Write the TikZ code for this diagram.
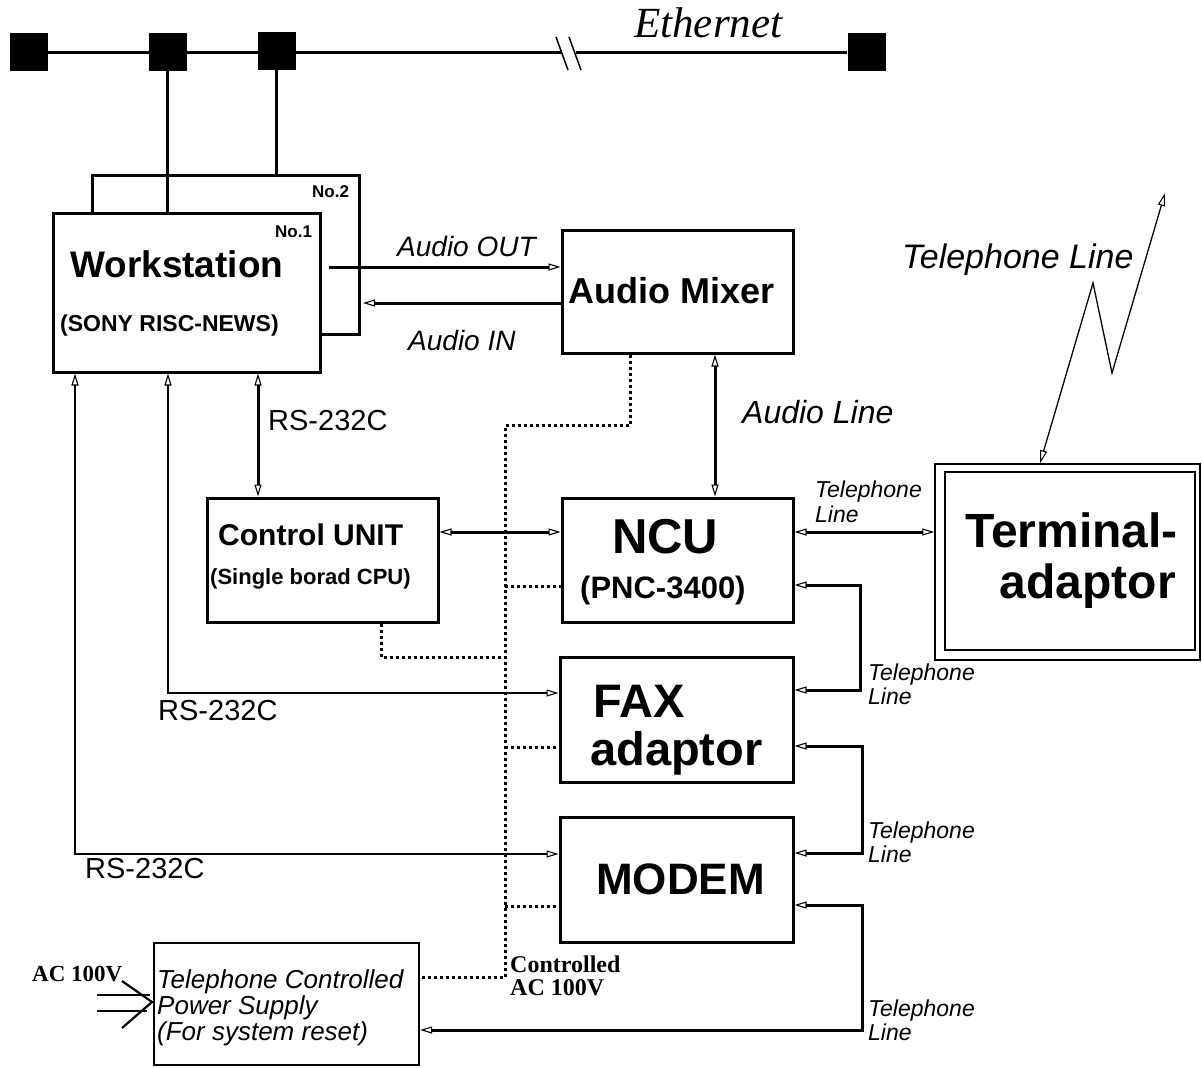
\documentclass[tikz,border=0pt]{standalone}
\usepackage{fontspec}
\setmainfont{Liberation Sans}
\newfontfamily\serifff{Liberation Serif}
\usetikzlibrary{arrows.meta}
\newcommand\fsz[1]{\fontsize{#1}{#1}\selectfont}
\begin{document}
\begin{tikzpicture}[x=1pt,y=-1pt,
  box/.style={draw,line width=3pt,inner sep=0pt,fill=white},
  tbox/.style={draw,line width=1.4pt,inner sep=0pt},
  sq/.style={fill=black,minimum width=38pt,minimum height=38pt,inner sep=0pt},
  lbl/.style={inner sep=0pt,anchor=base west},
  conn/.style={line width=3pt},
  thinconn/.style={line width=1.8pt},
  dots/.style={line width=3pt,dash pattern=on 3pt off 3pt},
  >={Triangle[open,length=12pt,width=7pt,line width=1.1pt]}]
\useasboundingbox (0,0) rectangle (1202,1068);

% Ethernet
\node[sq] (sq1) at (29,52) {};
\node[sq] (sq2) at (167.5,52) {};
\node[sq] (sq3) at (276.5,51) {};
\node[sq] (sq4) at (866.5,52) {};
\coordinate (brA) at (562,52);
\coordinate (brB) at (576,52);
\draw[line width=3pt] (sq1.east) -- (brA);
\draw[line width=3pt] (brB) -- (sq4.west);
\draw[line width=1.5pt] (556,37) -- (568,70);
\draw[line width=1.5pt] (569,37) -- (581,70);
\node[lbl] (eth) at (634,37) {\serifff\itshape\fsz{43}Ethernet};

% Workstations
\node[box,minimum width=267pt,minimum height=159pt] (ws2) at (225.5,254.5) {};
\node[box,minimum width=267pt,minimum height=159pt] (ws1) at (186.5,292.5) {};
\draw[line width=2.2pt] (sq2.south) -- (sq2.south |- ws1.north);
\draw[line width=2.2pt] (sq3.south) -- (sq3.south |- ws2.north);
\node[lbl] (no2) at (312,197) {\bfseries\fsz{17}No.2};
\node[lbl] (no1) at (275,237) {\bfseries\fsz{17}No.1};
\node[lbl] (wst) at (70,277) {\bfseries\fsz{37}Workstation};
\node[lbl] (sony) at (60,331) {\bfseries\fsz{23}(SONY RISC-NEWS)};

% Other boxes
\node[box,minimum width=231pt,minimum height=123pt] (mixer) at (677.5,291.5) {};
\node[lbl] at (568,303) {\bfseries\fsz{36}Audio Mixer};
\node[box,minimum width=231pt,minimum height=124pt] (ncu) at (677.5,560) {};
\node[lbl] at (612,553) {\bfseries\fsz{49}NCU};
\node[lbl] at (580,598) {\bfseries\fsz{31}(PNC-3400)};
\node[box,minimum width=231pt,minimum height=124pt] (ctrl) at (322.5,560) {};
\node[lbl] at (218,545) {\bfseries\fsz{30}Control UNIT};
\node[lbl] at (210,584) {\bfseries\fsz{22}(Single borad CPU)};
\node[box,minimum width=233pt,minimum height=125pt] (fax) at (676.5,719.5) {};
\node[lbl] at (593,717) {\bfseries\fsz{47}FAX};
\node[lbl] at (590,765) {\bfseries\fsz{47}adaptor};
\node[box,minimum width=233pt,minimum height=125pt] (modem) at (676.5,879.5) {};
\node[lbl] at (596,894) {\bfseries\fsz{44}MODEM};
\node[tbox,minimum width=265pt,minimum height=196pt] (ta) at (1067.5,562) {};
\node[tbox,minimum width=250pt,minimum height=178pt] (tai) at (1070,561) {};
\node[inner sep=0pt,anchor=base east] at (1178,547) {\bfseries\fsz{48}Terminal-};
\node[inner sep=0pt,anchor=base east] at (1176,598) {\bfseries\fsz{48}adaptor};
\node[draw,line width=2.2pt,inner sep=0pt,minimum width=265pt,minimum height=122pt] (ps) at (286.5,1004) {};
\node[lbl] at (157,988) {\itshape\fsz{26}Telephone Controlled};
\node[lbl] at (157,1014) {\itshape\fsz{26}Power Supply};
\node[lbl] at (157,1040) {\itshape\fsz{26}(For system reset)};

% Audio connectors
\coordinate (aoS) at (329,267);
\draw[conn,->] (aoS) -- (aoS -| mixer.west);
\node[lbl] at (397,256) {\itshape\fsz{28}Audio OUT};
\coordinate (aiE) at (363,303);
\draw[conn,->] (aiE -| mixer.west) -- (aiE);
\node[lbl] at (408,350) {\itshape\fsz{28}Audio IN};
\coordinate (alx) at (715,0);
\draw[conn,<->] (alx |- mixer.south) -- (alx |- ncu.north);
\node[lbl] at (742,423) {\itshape\fsz{32}Audio Line};

% RS-232C workstation - control
\coordinate (rsx) at (258,0);
\draw[conn,<->] (rsx |- ws1.south) -- (rsx |- ctrl.north);
\node[lbl] at (268,430) {\fsz{29}RS-232C};
% control - NCU
\coordinate (cny) at (0,532);
\draw[conn,<->] (ctrl.east |- cny) -- (ncu.west |- cny);
% NCU - TA
\draw[conn,<->] (ncu.east |- cny) -- (ta.west |- cny);
\node[lbl] at (815,497) {\itshape\fsz{23}Telephone};
\node[lbl] at (815,522) {\itshape\fsz{23}Line};

% Lightning
\coordinate (lz1) at (1093,283);
\coordinate (lz2) at (1112,373);
\coordinate (lzE) at (1165,193);
\draw[line width=1.3pt,<->,>={Triangle[open,length=13pt,width=7pt,line width=1pt]}]
  (1040,0 |- ta.north) -- (lz1) -- (lz2) -- (lzE);
\node[lbl] at (902,268) {\itshape\fsz{34}Telephone Line};

% Telephone lines right side
\coordinate (t1a) at (860,585);
\coordinate (t1b) at (860,690);
\draw[conn,<->] (ncu.east |- t1a) -- (t1a) -- (t1b) -- (fax.east |- t1b);
\node[lbl] at (868,680) {\itshape\fsz{23}Telephone};
\node[lbl] at (868,704) {\itshape\fsz{23}Line};
\coordinate (t2a) at (862,746);
\coordinate (t2b) at (862,853);
\draw[conn,<->] (fax.east |- t2a) -- (t2a) -- (t2b) -- (modem.east |- t2b);
\node[lbl] at (868,838) {\itshape\fsz{23}Telephone};
\node[lbl] at (868,862) {\itshape\fsz{23}Line};
\coordinate (t3a) at (862,905);
\coordinate (t3b) at (862,1030);
\draw[conn,<->] (modem.east |- t3a) -- (t3a) -- (t3b) -- (ps.east |- t3b);
\node[lbl] at (868,1016) {\itshape\fsz{23}Telephone};
\node[lbl] at (868,1040) {\itshape\fsz{23}Line};

% RS-232C to FAX and MODEM
\coordinate (rf) at (168,693);
\draw[thinconn,<->] (rf |- ws1.south) -- (rf) -- (fax.west |- rf);
\node[lbl] at (158,720) {\fsz{29}RS-232C};
\coordinate (rm) at (75,854);
\draw[thinconn,<->] (rm |- ws1.south) -- (rm) -- (modem.west |- rm);
\node[lbl] at (85,878) {\fsz{29}RS-232C};

% Dotted power control lines
\coordinate (d0) at (630,425);
\coordinate (d1) at (505,425);
\coordinate (d2) at (505,977);
\draw[dots] (d0 |- mixer.south) -- (d0) -- (d1) -- (d2) -- (ps.east |- d2);
\coordinate (dn) at (505,586);
\draw[dots] (dn) -- (ncu.west |- dn);
\coordinate (dc) at (381,657);
\draw[dots] (dc |- ctrl.south) -- (dc) -- (505,657);
\coordinate (df) at (505,747);
\draw[dots] (df) -- (fax.west |- df);
\coordinate (dm) at (505,906);
\draw[dots] (dm) -- (modem.west |- dm);
\node[lbl] at (510,972) {\serifff\bfseries\fsz{24}Controlled};
\node[lbl] at (510,995) {\serifff\bfseries\fsz{24}AC 100V};

% AC input
\node[lbl] at (32,981) {\serifff\bfseries\fsz{23}AC 100V};
\draw[line width=2.2pt] (97,995) -- (150,995);
\draw[line width=2.2pt] (97,1011) -- (147,1011);
\draw[line width=2.2pt] (122,981) -- (152,1002) -- (122,1028);
\end{tikzpicture}
\end{document}
